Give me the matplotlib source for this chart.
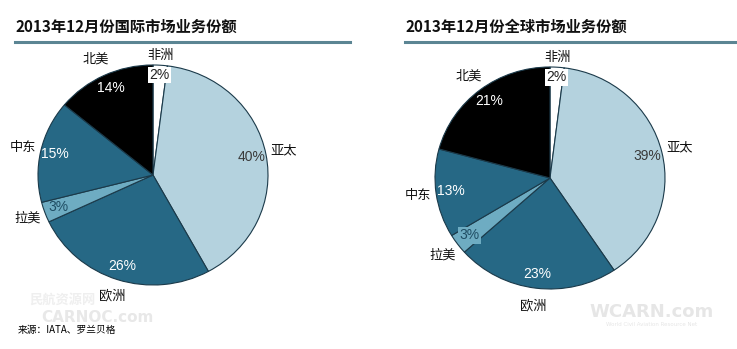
import matplotlib
matplotlib.use('Agg')
import matplotlib.pyplot as plt
from matplotlib.lines import Line2D
import numpy as np

plt.rcParams['font.family'] = ['Noto Sans CJK SC', 'DejaVu Sans']

# 区域及份额（%），从12点方向顺时针排列
regions = ['非洲', '亚太', '欧洲', '拉美', '中东', '北美']
intl_share = [2, 40, 26, 3, 15, 14]
global_share = [2, 39, 23, 3, 13, 21]
titles = ['2013年12月份国际市场业务份额', '2013年12月份全球市场业务份额']
source = '来源：IATA、罗兰贝格'

colors = ['#ffffff', '#b4d2de', '#266885', '#6eacc2', '#266885', '#000000']
pct_colors = ['#222222', '#3a3a3a', 'white', '#1f4d63', 'white', 'white']

W, H = 737, 349
fig = plt.figure(figsize=(W / 100, H / 100), dpi=100)


def px_axes(cx, cy, rx, ry):
    # 以像素给出饼图中心和半径
    return fig.add_axes([(cx - rx) / W, 1 - (cy + ry) / H, 2 * rx / W, 2 * ry / H])


def draw_pie(ax, vals, box_small):
    wedges, _ = ax.pie(vals, colors=colors, startangle=90, counterclock=False,
                       wedgeprops=dict(edgecolor='#1b3a4a', linewidth=0.8))
    ax.set_aspect('auto')
    ax.set_xlim(-1, 1)
    ax.set_ylim(-1, 1)
    for i, w in enumerate(wedges):
        a = np.deg2rad((w.theta1 + w.theta2) / 2)
        lr, pr = (1.09, 0.91) if i == 0 else (1.16, 0.87)
        ax.text(lr * np.cos(a), lr * np.sin(a), regions[i], fontsize=9.5,
                ha='center', va='center', color='#111111', zorder=5)
        bbox = None
        if i == 0:
            bbox = dict(boxstyle='square,pad=0.1', fc='white', ec='none')
        elif i == 3 and box_small:
            bbox = dict(boxstyle='square,pad=0.1', fc=colors[3], ec='none')
        ax.text(pr * np.cos(a), pr * np.sin(a), '%d%%' % vals[i], fontsize=10,
                ha='center', va='center', color=pct_colors[i], bbox=bbox,
                family=['Liberation Sans', 'DejaVu Sans'])


# 水印（放在最底层）
fig.text(62 / W, 1 - 300 / H, '民航资源网', fontsize=9.5, fontweight='bold',
         color='#efefef', ha='center', va='center', zorder=0)
fig.text(97 / W, 1 - 318 / H, 'CARNOC.com', fontsize=11, fontweight='bold',
         color='#e8e8e8', ha='center', va='center', family='DejaVu Sans', zorder=0)
fig.text(652 / W, 1 - 312 / H, 'WCARN.com', fontsize=13, fontweight='bold',
         color='#e6e6e6', ha='center', va='center', family='DejaVu Sans', zorder=0)
fig.text(652 / W, 1 - 324 / H, 'World Civil Aviation Resource Net', fontsize=4,
         color='#e6e6e6', ha='center', va='center', family='DejaVu Sans', zorder=0)

ax1 = px_axes(153, 175, 115, 110)
draw_pie(ax1, intl_share, False)
ax2 = px_axes(550, 178, 115, 111)
draw_pie(ax2, global_share, True)

# 标题及下划线
for x0, x1, t in [(15, 350, titles[0]), (405, 737, titles[1])]:
    fig.text(x0 / W, 1 - 27 / H, t, fontsize=11, fontweight='bold',
             va='center', ha='left', color='#111111')
    fig.add_artist(Line2D([x0 / W, x1 / W], [1 - 41.5 / H] * 2,
                          color='#5b8593', lw=2.2))

fig.text(18 / W, 1 - 330 / H, source, fontsize=7, va='center', ha='left')

fig.savefig('out.png', dpi=100)
